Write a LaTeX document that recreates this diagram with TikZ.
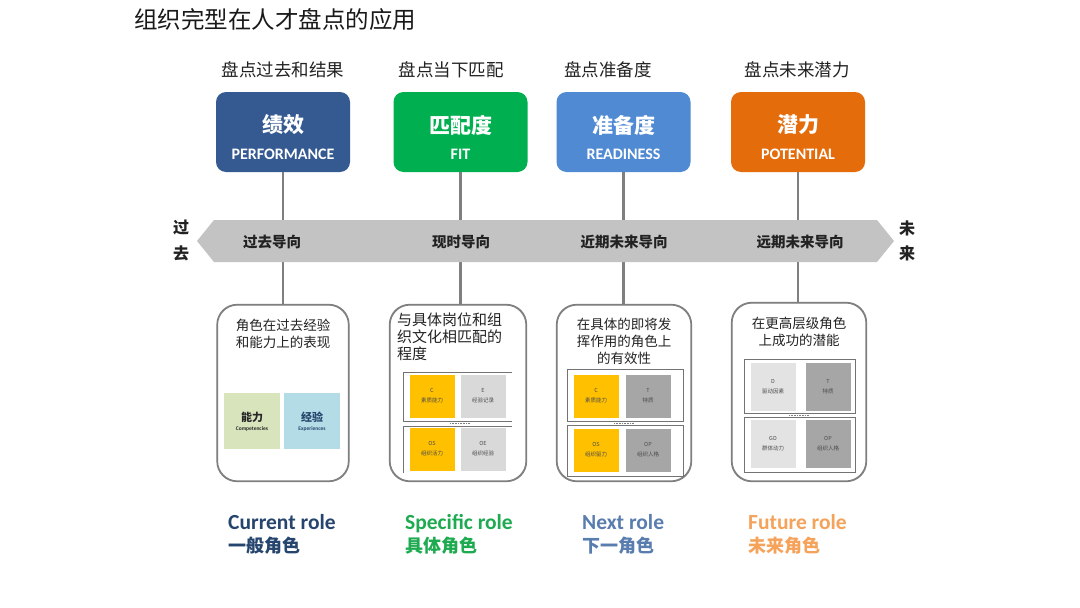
\documentclass[tikz,border=0pt]{standalone}
\usepackage{fontspec}
\setmainfont{Noto Sans CJK SC}
\newfontfamily\lat{Carlito}
\definecolor{cperf}{HTML}{345A91}
\definecolor{cfit}{HTML}{00B050}
\definecolor{cread}{HTML}{4F8AD3}
\definecolor{cpot}{HTML}{E46C0A}
\definecolor{cband}{HTML}{C3C3C3}
\definecolor{cline}{HTML}{7F7F7F}
\definecolor{ccur}{HTML}{26456E}
\definecolor{cspec}{HTML}{1EAA50}
\definecolor{cnext}{HTML}{5A7DB0}
\definecolor{cfut}{HTML}{F5A25A}
\definecolor{cyel}{HTML}{FFC000}
\definecolor{clg}{HTML}{D9D9D9}
\definecolor{cmg}{HTML}{A6A6A6}
\definecolor{cvl}{HTML}{E3E3E3}
\definecolor{cgrn}{HTML}{D8E4BC}
\definecolor{cblu}{HTML}{B4DCE6}
\definecolor{ctxt}{HTML}{222222}
\begin{document}
\begin{tikzpicture}[x=1pt,y=-1pt,
  topbox/.style={rounded corners=10pt,minimum width=134pt,minimum height=80pt,inner sep=0pt},
  lowbox/.style={draw=cline,line width=1.1pt,rounded corners=20pt,inner sep=0pt,fill=white},
  lowframe/.style={draw=cline,line width=1.1pt,rounded corners=20pt},
  conn/.style={draw=cline,line width=2.5pt},
  toplab/.style={font=\fontsize{17.5}{20}\selectfont,text=ctxt},
  boxcn/.style={font=\fontsize{21}{24}\selectfont\bfseries,text=white},
  boxen/.style={font=\lat\fontsize{16}{18}\selectfont\bfseries,text=white},
  bandlab/.style={font=\fontsize{14.5}{17}\selectfont\bfseries,text=ctxt},
  sidelab/.style={font=\fontsize{16}{18}\selectfont\bfseries,text=ctxt},
  desc/.style={font=\fontsize{13.5}{17}\selectfont,text=ctxt,inner sep=0pt},
  sq/.style={minimum width=45pt,minimum height=43pt,inner sep=0pt,align=center,font=\fontsize{5.5}{10}\selectfont,text=black!70},
  frame/.style={draw=black!55,line width=0.6pt},
  roleen/.style={font=\lat\fontsize{21.5}{24}\selectfont\bfseries,inner sep=0pt,anchor=base west},
  rolecn/.style={font=\fontsize{18}{20}\selectfont\bfseries,inner sep=0pt,anchor=base west}
]
\useasboundingbox (0,0) rectangle (1080,608);
\fill[white] (0,0) rectangle (1080,608);

% title
\node[anchor=west,inner sep=0pt,font=\fontsize{23.5}{26}\selectfont,text=black!90] (title) at (134,20) {组织完型在人才盘点的应用};

% top labels
\node[toplab] (l1) at (283,70) {盘点过去和结果};
\node[toplab] (l2) at (451,70) {盘点当下匹配};
\node[toplab] (l3) at (608,70) {盘点准备度};
\node[toplab] (l4) at (797,70) {盘点未来潜力};

% top boxes
\node[topbox,fill=cperf] (t1) at (283,132) {};
\node[topbox,fill=cfit] (t2) at (460.5,132) {};
\node[topbox,fill=cread] (t3) at (623.5,132) {};
\node[topbox,fill=cpot] (t4) at (798,132) {};
\node[boxcn] (t1c) at (283,125) {绩效};
\node[boxen] (t1e) at (283,154) {PERFORMANCE};
\node[boxcn] (t2c) at (460.5,125) {匹配度};
\node[boxen] (t2e) at (460.5,154) {FIT};
\node[boxcn] (t3c) at (623.5,125) {准备度};
\node[boxen] (t3e) at (623.5,154) {READINESS};
\node[boxcn] (t4c) at (798,125) {潜力};
\node[boxen] (t4e) at (798,154) {POTENTIAL};

% lower boxes
\node[lowbox,minimum width=131pt,minimum height=176pt] (b1) at (283,393) {};
\node[lowbox,minimum width=136pt,minimum height=176pt] (b2) at (458,393) {};
\node[lowbox,minimum width=134pt,minimum height=176pt] (b3) at (624,393) {};
\node[lowbox,minimum width=134pt,minimum height=178pt] (b4) at (799,392) {};

% connectors (behind band)
\draw[conn] (t1.south) -- (t1.south |- b1.north);
\draw[conn] (t2.south) -- (t2.south |- b2.north);
\draw[conn] (t3.south) -- (t3.south |- b3.north);
\draw[conn] (t4.south) -- (t4.south |- b4.north);
% redraw lower box outlines over line ends
\draw[lowframe] (b1.north west) rectangle (b1.south east);
\draw[lowframe] (b2.north west) rectangle (b2.south east);
\draw[lowframe] (b3.north west) rectangle (b3.south east);
\draw[lowframe] (b4.north west) rectangle (b4.south east);

% band
\fill[cband] (197,241) -- (214,220) -- (877,220) -- (894,241) -- (877,262) -- (214,262) -- cycle;
\node[bandlab] (g1) at (272,242) {过去导向};
\node[bandlab] (g2) at (461,242) {现时导向};
\node[bandlab] (g3) at (624,242) {近期未来导向};
\node[bandlab] (g4) at (800,242) {远期未来导向};
\node[sidelab] (p1) at (181,228) {过};
\node[sidelab] (p2) at (181,253) {去};
\node[sidelab] (f1) at (907,228) {未};
\node[sidelab] (f2) at (907,253) {来};

% box 1 content
\node[desc,align=center] (d1) at (283,334) {角色在过去经验\\和能力上的表现};
\node[minimum width=56pt,minimum height=56pt,inner sep=0pt,fill=cgrn] (s11) at (252,421) {};
\node[minimum width=56pt,minimum height=56pt,inner sep=0pt,fill=cblu] (s12) at (312,421) {};
\node[font=\fontsize{11}{12}\selectfont\bfseries,text=black!85] (s11a) at (252,417) {能力};
\node[font=\lat\fontsize{5.5}{6}\selectfont\bfseries,text=black!85] (s11b) at (252,429) {Competencies};
\node[font=\fontsize{11}{12}\selectfont\bfseries,text=ccur] (s12a) at (312,417) {经验};
\node[font=\lat\fontsize{5.5}{6}\selectfont\bfseries,text=ccur] (s12b) at (312,429) {Experiences};

% box 2 content
\node[desc,align=left,anchor=north west,font=\fontsize{15}{17}\selectfont] (d2) at (397,313) {与具体岗位和组\\织文化相匹配的\\程度};
\draw[frame] (403,372) -- (512,372) (403,372) -- (403,421) -- (512,421);
\draw[frame] (403,426) -- (512,426) (403,426) -- (403,473);
\node[sq,fill=cyel] (q21) at (432,396) {C\\素质能力};
\node[sq,fill=clg] (q22) at (483,396) {E\\经验记录};
\node[sq,fill=cyel] (q23) at (432,449) {OS\\组织活力};
\node[sq,fill=clg] (q24) at (483,449) {OE\\组织经验};
\draw[black!50,densely dotted,line width=0.6pt] (450,423.5) -- (470,423.5);

% box 3 content
\node[desc,align=center] (d3) at (624,341) {在具体的即将发\\挥作用的角色上\\的有效性};
\draw[frame] (567,369) rectangle (683,421);
\draw[frame] (567,425) rectangle (683,476);
\node[sq,fill=cyel] (q31) at (596,396) {C\\素质能力};
\node[sq,fill=cmg] (q32) at (648,396) {T\\特质};
\node[sq,fill=cyel] (q33) at (596,450) {OS\\组织驱力};
\node[sq,fill=cmg] (q34) at (648,450) {OP\\组织人格};
\draw[black!50,densely dotted,line width=0.6pt] (614,423) -- (634,423);

% box 4 content
\node[desc,align=center] (d4) at (799,332) {在更高层级角色\\上成功的潜能};
\draw[frame] (744,359) rectangle (855,413);
\draw[frame] (744,417) rectangle (855,472);
\node[sq,fill=cvl,minimum height=48pt] (q41) at (773,387) {D\\驱动因素};
\node[sq,fill=cmg,minimum height=48pt] (q42) at (828,387) {T\\特质};
\node[sq,fill=cvl,minimum height=48pt] (q43) at (773,444) {GD\\群体动力};
\node[sq,fill=cmg,minimum height=48pt] (q44) at (828,444) {OP\\组织人格};
\draw[black!50,densely dotted,line width=0.6pt] (789,415) -- (809,415);

% role labels
\node[roleen,text=ccur] (r1) at (228,529) {Current role};
\node[rolecn,text=ccur] (r1c) at (228,552) {一般角色};
\node[roleen,text=cspec] (r2) at (405,529) {Specific role};
\node[rolecn,text=cspec] (r2c) at (405,552) {具体角色};
\node[roleen,text=cnext] (r3) at (582,529) {Next role};
\node[rolecn,text=cnext] (r3c) at (582,552) {下一角色};
\node[roleen,text=cfut] (r4) at (748,529) {Future role};
\node[rolecn,text=cfut] (r4c) at (748,552) {未来角色};
\end{tikzpicture}
\end{document}
